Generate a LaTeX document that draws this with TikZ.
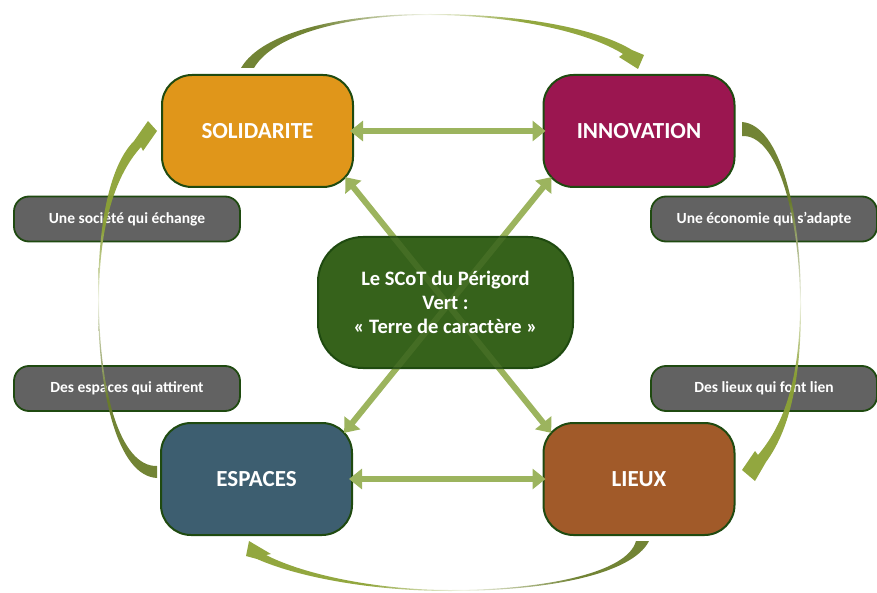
\documentclass[tikz,border=0pt]{standalone}
\usepackage{fontspec}
\setmainfont{Carlito}
\usetikzlibrary{arrows.meta}
\definecolor{cOrange}{HTML}{E0961A}
\definecolor{cMaroon}{HTML}{9B1650}
\definecolor{cSlate}{HTML}{3D5E70}
\definecolor{cBrown}{HTML}{A15A29}
\definecolor{cCenter}{HTML}{36621B}
\definecolor{cGray}{HTML}{626262}
\definecolor{cBorder}{HTML}{1F4A10}
\definecolor{cLink}{HTML}{9CB45E}
\definecolor{cDark}{HTML}{6A7D2A}
\definecolor{cLight}{HTML}{8CA235}
\colorlet{cFade}{cLight!12!white}
\pgfdeclarehorizontalshading{arcH}{100bp}{color(0bp)=(cDark); color(34bp)=(cDark); color(48bp)=(cFade); color(60bp)=(cLight); color(100bp)=(cLight)}
\pgfdeclareverticalshading{arcV}{100bp}{color(0bp)=(cLight); color(40bp)=(cLight); color(50bp)=(cFade); color(64bp)=(cDark); color(100bp)=(cDark)}
\begin{document}
\begin{tikzpicture}[x=1pt,y=-1pt,
  box/.style={draw=cBorder, line width=2pt, rounded corners=30pt,
    minimum width=191pt, minimum height=112pt, inner sep=0pt,
    text=white, font=\fontsize{23}{27}\selectfont\bfseries},
  lab/.style={draw=cBorder, line width=1.8pt, fill=cGray, rounded corners=15pt,
    minimum width=226pt, minimum height=45pt, inner sep=0pt,
    text=white, font=\fontsize{15.5}{18}\selectfont\bfseries},
  link/.style={draw=cLink, line width=6pt,
    {Triangle[width=20pt,length=13pt]}-{Triangle[width=20pt,length=13pt]}},
  diag/.style={link, shorten <=-14pt, shorten >=-14pt}
]
\useasboundingbox (0,0) rectangle (877,593);

% main nodes
\node[box, fill=cOrange] (sol) at (257.5,131) {SOLIDARITE};
\node[box, fill=cMaroon] (inn) at (639,131) {INNOVATION};
\node[box, fill=cSlate]  (esp) at (256.5,479) {ESPACES};
\node[box, fill=cBrown]  (lie) at (639,479) {LIEUX};

% diagonal links (behind the centre)
\draw[diag] (sol.south east) -- (lie.north west);
\draw[diag] (esp.north east) -- (inn.south west);

% centre
\node[draw=cBorder, line width=2pt, fill=cCenter,
  rounded corners=45pt, minimum width=255pt, minimum height=131pt, inner sep=0pt]
  (ctr) at (445.5,302.5) {};
% the links show faintly through the centre
\begin{scope}
  \clip[rounded corners=45pt] (ctr.south west) rectangle (ctr.north east);
  \draw[diag, draw opacity=0.14] (sol.south east) -- (lie.north west);
  \draw[diag, draw opacity=0.14] (esp.north east) -- (inn.south west);
\end{scope}
\node[text=white, align=center, font=\fontsize{20.5}{24}\selectfont\bfseries]
  (ctrtext) at (ctr.center) {Le SCoT du Périgord\\Vert :\\« Terre de caractère »};

% horizontal links
\draw[link, shorten <=-4pt, shorten >=-3pt] (sol.east) -- (inn.west);
\draw[link, shorten <=-4pt, shorten >=-3pt] (esp.east) -- (lie.west);

% labels
\node[lab] (l1) at (127,219) {Une société qui échange};
\node[lab] (l2) at (127,388.5) {Des espaces qui attirent};
\node[lab] (l3) at (764,219) {Une économie qui s’adapte};
\node[lab] (l4) at (764,388.5) {Des lieux qui font lien};

% curved arrows
% top: SOLIDARITE -> INNOVATION
\shade[shading=arcH, opacity=0.95]
  (241,68) .. controls (262,32) and (340,14) .. (430,14)
  .. controls (520,14) and (596,28) .. (632,50)
  -- (644,55) -- (638,69) -- (619,57) -- (623,54)
  .. controls (590,33) and (515,15) .. (430,15)
  .. controls (345,15) and (273,35) .. (254,68) -- cycle;
% right: INNOVATION -> LIEUX
\shade[shading=arcV, opacity=0.95]
  (742,122) .. controls (780,125) and (801,210) .. (801,305)
  .. controls (801,385) and (788,432) .. (766,462)
  -- (755,481) -- (742,470) -- (755,451) -- (758,455)
  .. controls (781,428) and (800,385) .. (800,305)
  .. controls (800,215) and (777,134) .. (742,136) -- cycle;
% bottom: LIEUX -> ESPACES
\shade[shading=arcH, shading angle=180, opacity=0.95]
  (649,541) .. controls (632,575) and (545,591) .. (450,591)
  .. controls (375,591) and (300,578) .. (257,559)
  -- (246,556) -- (249,541) -- (271,554) -- (266,555)
  .. controls (305,575) and (378,590) .. (450,590)
  .. controls (540,590) and (627,574) .. (636,541) -- cycle;
% left: ESPACES -> SOLIDARITE
\shade[shading=arcV, shading angle=180, opacity=0.95]
  (157,478) .. controls (118,476) and (98,395) .. (98,300)
  .. controls (98,215) and (112,163) .. (134,141)
  -- (148,121) -- (157,131) -- (143,151) -- (141,147)
  .. controls (120,170) and (99,215) .. (99,300)
  .. controls (99,390) and (120,467) .. (157,466) -- cycle;
\end{tikzpicture}
\end{document}
